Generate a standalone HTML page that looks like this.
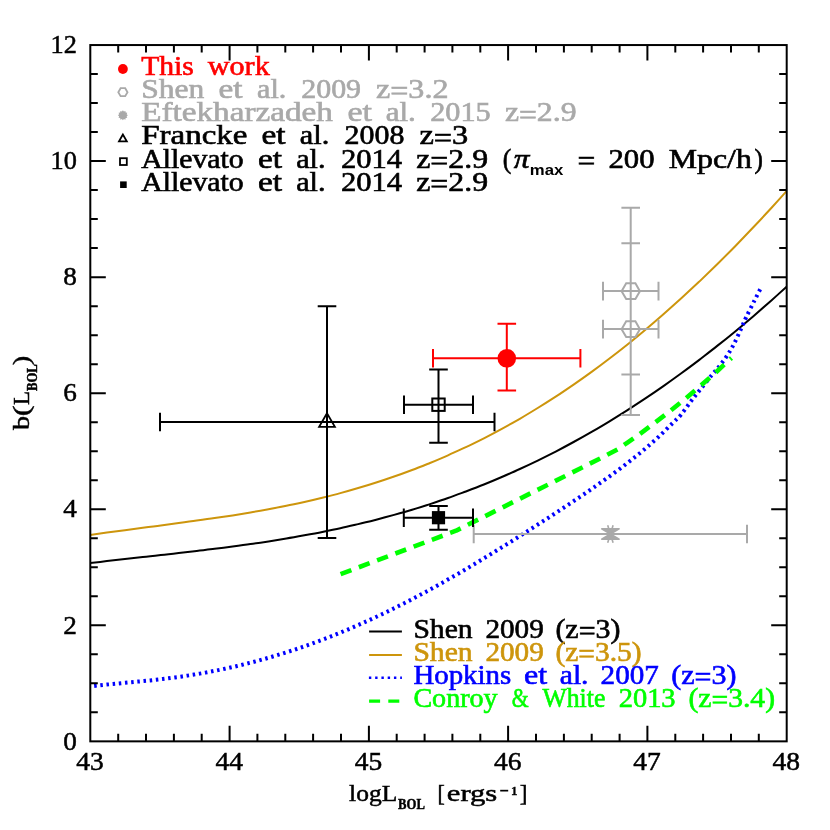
<!DOCTYPE html>
<html><head><meta charset="utf-8"><title>b(L_BOL)</title>
<style>html,body{margin:0;padding:0;background:#fff;}svg{display:block;will-change:transform;}text{font-family:"Liberation Serif",serif;}</style></head><body>
<svg width="830" height="830" viewBox="0 0 830 830">
<rect x="0" y="0" width="830" height="830" fill="#fff"/>
<clipPath id="cp"><rect x="90.3" y="45.05" width="696.4000000000001" height="696.3000000000001"/></clipPath>
<g clip-path="url(#cp)" fill="none">
<path d="M89.0,535.2 C92.0,534.8 101.0,533.4 106.9,532.6 C112.9,531.8 118.9,531.0 124.9,530.2 C130.9,529.4 136.9,528.6 142.8,527.8 C148.8,527.0 154.8,526.2 160.8,525.5 C166.8,524.7 172.8,523.9 178.7,523.1 C184.7,522.3 190.7,521.5 196.7,520.6 C202.7,519.8 208.7,519.0 214.6,518.1 C220.6,517.2 226.6,516.3 232.6,515.4 C238.6,514.4 244.6,513.4 250.5,512.4 C256.5,511.4 262.5,510.3 268.5,509.2 C274.5,508.1 280.5,506.9 286.4,505.7 C292.4,504.5 298.4,503.2 304.4,501.9 C310.4,500.6 316.4,499.2 322.3,497.7 C328.3,496.2 334.3,494.7 340.3,493.1 C346.3,491.5 352.2,489.8 358.2,488.0 C364.2,486.3 370.2,484.5 376.2,482.5 C382.2,480.6 388.1,478.6 394.1,476.5 C400.1,474.5 406.1,472.3 412.1,470.0 C418.1,467.8 424.0,465.4 430.0,463.0 C436.0,460.5 442.0,458.0 448.0,455.3 C454.0,452.7 459.9,449.9 465.9,447.1 C471.9,444.3 477.9,441.3 483.9,438.3 C489.9,435.2 495.8,432.1 501.8,428.8 C507.8,425.6 513.8,422.2 519.8,418.8 C525.8,415.3 531.7,411.7 537.7,408.0 C543.7,404.4 549.7,400.6 555.7,396.7 C561.6,392.8 567.6,388.7 573.6,384.6 C579.6,380.5 585.6,376.3 591.6,371.9 C597.5,367.6 603.5,363.1 609.5,358.5 C615.5,354.0 621.5,349.3 627.5,344.5 C633.4,339.7 639.4,334.8 645.4,329.7 C651.4,324.7 657.4,319.6 663.4,314.3 C669.3,309.1 675.3,303.7 681.3,298.3 C687.3,292.8 693.3,287.2 699.3,281.6 C705.2,275.9 711.2,270.1 717.2,264.2 C723.2,258.3 729.2,252.3 735.2,246.2 C741.1,240.1 747.1,233.8 753.1,227.5 C759.1,221.2 765.1,214.8 771.1,208.3 C777.0,201.7 786.0,191.7 789.0,188.4" stroke="#cd950c" stroke-width="2"/>
<path d="M89.0,563.2 C92.0,562.8 101.0,561.8 106.9,561.1 C112.9,560.4 118.9,559.7 124.9,559.0 C130.9,558.3 136.9,557.7 142.8,557.0 C148.8,556.4 154.8,555.7 160.8,555.0 C166.8,554.4 172.8,553.7 178.7,553.0 C184.7,552.3 190.7,551.7 196.7,551.0 C202.7,550.2 208.7,549.5 214.6,548.8 C220.6,548.0 226.6,547.3 232.6,546.5 C238.6,545.7 244.6,544.9 250.5,544.0 C256.5,543.2 262.5,542.3 268.5,541.4 C274.5,540.4 280.5,539.5 286.4,538.5 C292.4,537.5 298.4,536.4 304.4,535.3 C310.4,534.2 316.4,533.1 322.3,531.9 C328.3,530.7 334.3,529.5 340.3,528.2 C346.3,526.9 352.2,525.5 358.2,524.1 C364.2,522.7 370.2,521.2 376.2,519.7 C382.2,518.1 388.1,516.5 394.1,514.9 C400.1,513.2 406.1,511.5 412.1,509.7 C418.1,507.9 424.0,506.0 430.0,504.1 C436.0,502.1 442.0,500.1 448.0,498.0 C454.0,495.9 459.9,493.7 465.9,491.5 C471.9,489.2 477.9,486.9 483.9,484.5 C489.9,482.1 495.8,479.6 501.8,477.0 C507.8,474.4 513.8,471.8 519.8,469.0 C525.8,466.3 531.7,463.5 537.7,460.6 C543.7,457.6 549.7,454.6 555.7,451.6 C561.6,448.5 567.6,445.3 573.6,442.0 C579.6,438.8 585.6,435.4 591.6,431.9 C597.5,428.5 603.5,425.0 609.5,421.3 C615.5,417.7 621.5,414.0 627.5,410.2 C633.4,406.3 639.4,402.4 645.4,398.4 C651.4,394.4 657.4,390.3 663.4,386.1 C669.3,382.0 675.3,377.7 681.3,373.3 C687.3,368.9 693.3,364.5 699.3,359.9 C705.2,355.3 711.2,350.7 717.2,345.9 C723.2,341.2 729.2,336.4 735.2,331.4 C741.1,326.5 747.1,321.5 753.1,316.4 C759.1,311.2 765.1,306.0 771.1,300.7 C777.0,295.4 786.0,287.3 789.0,284.6" stroke="#000" stroke-width="2"/>
<path d="M88.0,686.7 C90.1,686.4 96.3,685.7 100.4,685.2 C104.6,684.8 108.7,684.4 112.9,684.0 C117.0,683.6 121.1,683.2 125.3,682.8 C129.4,682.4 133.6,682.0 137.7,681.6 C141.8,681.2 146.0,680.8 150.1,680.4 C154.3,680.0 158.4,679.5 162.6,679.0 C166.7,678.5 170.8,678.0 175.0,677.4 C179.1,676.9 183.3,676.3 187.4,675.6 C191.5,675.0 195.7,674.3 199.8,673.6 C204.0,672.9 208.1,672.1 212.3,671.3 C216.4,670.5 220.5,669.7 224.7,668.8 C228.8,667.9 233.0,667.0 237.1,666.0 C241.2,665.0 245.4,664.0 249.5,662.9 C253.7,661.9 257.8,660.8 262.0,659.6 C266.1,658.5 270.2,657.3 274.4,656.0 C278.5,654.8 282.7,653.5 286.8,652.2 C291.0,650.9 295.1,649.5 299.2,648.1 C303.4,646.7 307.5,645.2 311.7,643.7 C315.8,642.2 319.9,640.7 324.1,639.1 C328.2,637.5 332.4,635.9 336.5,634.2 C340.7,632.5 344.8,630.8 348.9,629.1 C353.1,627.3 357.2,625.5 361.4,623.7 C365.5,621.8 369.6,620.0 373.8,618.0 C377.9,616.1 382.1,614.2 386.2,612.2 C390.4,610.2 394.5,608.1 398.6,606.0 C402.8,604.0 406.9,601.8 411.1,599.7 C415.2,597.5 419.3,595.3 423.5,593.1 C427.6,590.9 431.8,588.6 435.9,586.3 C440.1,584.0 444.2,581.7 448.3,579.3 C452.5,577.0 456.6,574.6 460.8,572.2 C464.9,569.7 469.0,567.3 473.2,564.8 C477.3,562.3 481.5,559.8 485.6,557.3 C489.8,554.8 493.9,552.3 498.0,549.7 C502.2,547.1 506.3,544.6 510.5,542.0 C514.6,539.4 518.8,536.7 522.9,534.1 C527.0,531.5 531.2,528.8 535.3,526.2 C539.5,523.5 543.6,520.8 547.7,518.2 C551.9,515.5 556.0,512.8 560.2,510.0 C564.3,507.3 568.5,504.6 572.6,501.8 C576.7,499.1 580.9,496.3 585.0,493.5 C589.2,490.6 593.3,487.8 597.4,484.9 C601.6,482.0 605.7,479.1 609.9,476.1 C614.0,473.1 618.2,470.1 622.3,467.0 C626.4,463.8 630.6,460.6 634.7,457.3 C638.9,454.0 643.0,450.6 647.1,447.1 C651.3,443.5 655.4,439.8 659.6,435.9 C663.7,432.0 668.4,427.2 672.0,423.7 C675.6,420.1 677.9,418.3 681.0,414.7 C684.1,411.1 687.4,406.0 690.5,401.9 C693.6,397.8 696.2,394.6 699.8,390.1 C703.4,385.6 708.6,379.0 712.0,374.9 C715.4,370.8 717.4,368.6 720.0,365.3 C722.6,362.0 725.2,358.6 727.6,354.9 C730.0,351.2 732.0,347.7 734.3,343.3 C736.5,338.9 739.1,333.0 741.1,328.7 C743.1,324.4 743.9,322.0 746.1,317.3 C748.4,312.6 752.2,305.1 754.6,300.3 C757.0,295.5 759.5,290.6 760.5,288.7" stroke="#0000ff" stroke-width="4.0" stroke-dasharray="2.5 3.7"/>
<path d="M340.6,574.1 L456.1,530.7 L606.0,455.5 L618.0,449.1 L627.5,442.6 L640.0,433.8 L655.0,422.7 L670.0,411.1 L685.0,399.0 L700.0,386.3 L715.0,373.1 L731.5,358.0" stroke-linejoin="round" stroke="#00ff00" stroke-width="4.6" stroke-dasharray="11.5 8"/>
</g>
<g stroke="#000" stroke-width="2" fill="none" stroke-linecap="square">
<rect x="90.3" y="45.05" width="696.4000000000001" height="696.3000000000001"/>
</g>
<g stroke="#000" stroke-width="2" fill="none">
<path d="M118.2,741.35v-7.5M118.2,45.05v7.5M146.0,741.35v-7.5M146.0,45.05v7.5M173.9,741.35v-7.5M173.9,45.05v7.5M201.7,741.35v-7.5M201.7,45.05v7.5M229.6,741.35v-15.5M229.6,45.05v15.5M257.4,741.35v-7.5M257.4,45.05v7.5M285.3,741.35v-7.5M285.3,45.05v7.5M313.1,741.35v-7.5M313.1,45.05v7.5M341.0,741.35v-7.5M341.0,45.05v7.5M368.9,741.35v-15.5M368.9,45.05v15.5M396.7,741.35v-7.5M396.7,45.05v7.5M424.6,741.35v-7.5M424.6,45.05v7.5M452.4,741.35v-7.5M452.4,45.05v7.5M480.3,741.35v-7.5M480.3,45.05v7.5M508.1,741.35v-15.5M508.1,45.05v15.5M536.0,741.35v-7.5M536.0,45.05v7.5M563.9,741.35v-7.5M563.9,45.05v7.5M591.7,741.35v-7.5M591.7,45.05v7.5M619.6,741.35v-7.5M619.6,45.05v7.5M647.4,741.35v-15.5M647.4,45.05v15.5M675.3,741.35v-7.5M675.3,45.05v7.5M703.1,741.35v-7.5M703.1,45.05v7.5M731.0,741.35v-7.5M731.0,45.05v7.5M758.8,741.35v-7.5M758.8,45.05v7.5M90.3,712.3h7.5M786.7,712.3h-7.5M90.3,683.3h7.5M786.7,683.3h-7.5M90.3,654.3h7.5M786.7,654.3h-7.5M90.3,625.3h15.5M786.7,625.3h-15.5M90.3,596.3h7.5M786.7,596.3h-7.5M90.3,567.3h7.5M786.7,567.3h-7.5M90.3,538.3h7.5M786.7,538.3h-7.5M90.3,509.2h15.5M786.7,509.2h-15.5M90.3,480.2h7.5M786.7,480.2h-7.5M90.3,451.2h7.5M786.7,451.2h-7.5M90.3,422.2h7.5M786.7,422.2h-7.5M90.3,393.2h15.5M786.7,393.2h-15.5M90.3,364.2h7.5M786.7,364.2h-7.5M90.3,335.2h7.5M786.7,335.2h-7.5M90.3,306.2h7.5M786.7,306.2h-7.5M90.3,277.2h15.5M786.7,277.2h-15.5M90.3,248.1h7.5M786.7,248.1h-7.5M90.3,219.1h7.5M786.7,219.1h-7.5M90.3,190.1h7.5M786.7,190.1h-7.5M90.3,161.1h15.5M786.7,161.1h-15.5M90.3,132.1h7.5M786.7,132.1h-7.5M90.3,103.1h7.5M786.7,103.1h-7.5M90.3,74.1h7.5M786.7,74.1h-7.5"/>
</g>
<text x="63.2" y="749.5" font-size="26" fill="#000" stroke="#000" stroke-width="0.5" textLength="13.6" lengthAdjust="spacingAndGlyphs">0</text>
<text x="63.2" y="633.5" font-size="26" fill="#000" stroke="#000" stroke-width="0.5" textLength="13.6" lengthAdjust="spacingAndGlyphs">2</text>
<text x="63.2" y="517.4" font-size="26" fill="#000" stroke="#000" stroke-width="0.5" textLength="13.6" lengthAdjust="spacingAndGlyphs">4</text>
<text x="63.2" y="401.4" font-size="26" fill="#000" stroke="#000" stroke-width="0.5" textLength="13.6" lengthAdjust="spacingAndGlyphs">6</text>
<text x="63.2" y="285.3" font-size="26" fill="#000" stroke="#000" stroke-width="0.5" textLength="13.6" lengthAdjust="spacingAndGlyphs">8</text>
<text x="50.5" y="169.3" font-size="26" fill="#000" stroke="#000" stroke-width="0.5" textLength="26.3" lengthAdjust="spacingAndGlyphs">10</text>
<text x="50.5" y="53.2" font-size="26" fill="#000" stroke="#000" stroke-width="0.5" textLength="26.3" lengthAdjust="spacingAndGlyphs">12</text>
<text x="76.2" y="770.2" font-size="25.5" fill="#000" stroke="#000" stroke-width="0.5" textLength="27.5" lengthAdjust="spacingAndGlyphs">43</text>
<text x="215.5" y="770.2" font-size="25.5" fill="#000" stroke="#000" stroke-width="0.5" textLength="27.5" lengthAdjust="spacingAndGlyphs">44</text>
<text x="354.8" y="770.2" font-size="25.5" fill="#000" stroke="#000" stroke-width="0.5" textLength="27.5" lengthAdjust="spacingAndGlyphs">45</text>
<text x="494.0" y="770.2" font-size="25.5" fill="#000" stroke="#000" stroke-width="0.5" textLength="27.5" lengthAdjust="spacingAndGlyphs">46</text>
<text x="633.3" y="770.2" font-size="25.5" fill="#000" stroke="#000" stroke-width="0.5" textLength="27.5" lengthAdjust="spacingAndGlyphs">47</text>
<text x="772.6" y="770.2" font-size="25.5" fill="#000" stroke="#000" stroke-width="0.5" textLength="27.5" lengthAdjust="spacingAndGlyphs">48</text>
<text x="349.1" y="801.0" font-size="23" fill="#000" stroke="#000" stroke-width="0.5" textLength="48.1" lengthAdjust="spacingAndGlyphs">logL</text>
<text x="398.1" y="808.5" font-size="14.5" fill="#000" stroke="#000" stroke-width="0.45" textLength="26.8" lengthAdjust="spacingAndGlyphs" style="font-weight:bold;">BOL</text>
<text x="437.4" y="801.0" font-size="23" fill="#000" stroke="#000" stroke-width="0.5" textLength="7.3" lengthAdjust="spacingAndGlyphs">[</text>
<text x="446.8" y="801.0" font-size="23" fill="#000" stroke="#000" stroke-width="0.5" textLength="50.5" lengthAdjust="spacingAndGlyphs">ergs</text>
<rect x="500.2" y="789.8" width="8" height="1.7" fill="#000"/>
<text x="511.0" y="795.2" font-size="13.5" fill="#000" stroke="#000" stroke-width="0.3" textLength="6.5" lengthAdjust="spacingAndGlyphs" style="font-weight:bold;">1</text>
<text x="519.8" y="801.0" font-size="23" fill="#000" stroke="#000" stroke-width="0.5" textLength="7.7" lengthAdjust="spacingAndGlyphs">]</text>
<g transform="translate(28.9,429.6) rotate(-90)">
<text x="-0.5" y="0.3" font-size="23" fill="#000" stroke="#000" stroke-width="0.5" textLength="14.1" lengthAdjust="spacingAndGlyphs">b</text>
<text x="13.4" y="0.3" font-size="23" fill="#000" stroke="#000" stroke-width="0.5" textLength="10.7" lengthAdjust="spacingAndGlyphs">(</text>
<text x="24.5" y="0.3" font-size="23" fill="#000" stroke="#000" stroke-width="0.5" textLength="14.0" lengthAdjust="spacingAndGlyphs">L</text>
<text x="38.6" y="8.5" font-size="14.5" fill="#000" stroke="#000" stroke-width="0.45" textLength="26.8" lengthAdjust="spacingAndGlyphs" style="font-weight:bold;">BOL</text>
<text x="64.7" y="0.3" font-size="23" fill="#000" stroke="#000" stroke-width="0.5" textLength="9.1" lengthAdjust="spacingAndGlyphs">)</text>
</g>
<path d="M603.0,329.1H658.5M603.0,319.8v18.6M658.5,319.8v18.6M630.7,207.7V415.0M621.4,207.7h18.6M621.4,243.2h18.6M621.4,374.5h18.6M621.4,415.0h18.6" stroke="#a9a9a9" stroke-width="2" fill="none"/>
<path d="M603.0,291.1H658.5M603.0,281.8v18.6M658.5,281.8v18.6" stroke="#a9a9a9" stroke-width="2" fill="none"/>
<polygon points="639.9,329.2 635.4,337.1 626.2,337.1 621.6,329.2 626.2,321.3 635.4,321.3" fill="none" stroke="#a9a9a9" stroke-width="2"/>
<polygon points="639.9,291.2 635.4,299.1 626.2,299.1 621.6,291.2 626.2,283.3 635.4,283.3" fill="none" stroke="#a9a9a9" stroke-width="2"/>
<path d="M473.7,534.0H747.0M473.7,524.7v18.6M747.0,524.7v18.6" stroke="#a9a9a9" stroke-width="2" fill="none"/>
<g transform="translate(610.4,534.0) scale(1)" stroke="#a9a9a9" fill="#a9a9a9" stroke-width="1.60"><polygon points="-8.7,-5.2 8.7,-5.2 -8.7,5.2 8.7,5.2" stroke-linejoin="round"/><path d="M-2.7,-8.8L2.7,8.8M2.7,-8.8L-2.7,8.8" fill="none"/></g>
<path d="M160.0,422.0H494.5M160.0,412.7v18.6M494.5,412.7v18.6M327.0,306.2V538.0M317.7,306.2h18.6M317.7,538.0h18.6" stroke="#000" stroke-width="2" fill="none"/>
<polygon points="327.0,413.2 319.1,426.8 334.9,426.8" fill="none" stroke="#000" stroke-width="1.8"/>
<path d="M404.0,404.7H473.0M404.0,395.4v18.6M473.0,395.4v18.6M438.5,369.6V442.7M429.2,369.6h18.6M429.2,442.7h18.6" stroke="#000" stroke-width="2" fill="none"/>
<rect x="432.3" y="398.5" width="12.4" height="12.4" fill="none" stroke="#000" stroke-width="2"/>
<path d="M403.8,517.7H473.0M403.8,508.4v18.6M473.0,508.4v18.6M438.5,505.9V529.7M429.2,505.9h18.6M429.2,529.7h18.6" stroke="#000" stroke-width="2" fill="none"/>
<rect x="431.9" y="511.1" width="13.2" height="13.2" fill="#000" stroke="#000" stroke-width="0"/>
<path d="M433.0,358.3H580.4M433.0,349.0v18.6M580.4,349.0v18.6M506.8,323.7V390.4M497.5,323.7h18.6M497.5,390.4h18.6" stroke="#ff0000" stroke-width="2" fill="none"/>
<circle cx="506.8" cy="358.3" r="9.3" fill="#ff0000"/>
<text x="141.2" y="74.8" font-size="26.3" fill="#ff0000" stroke="#ff0000" stroke-width="0.6" textLength="52.7" lengthAdjust="spacingAndGlyphs">This</text>
<text x="207.8" y="74.8" font-size="26.3" fill="#ff0000" stroke="#ff0000" stroke-width="0.6" textLength="61.9" lengthAdjust="spacingAndGlyphs">work</text>
<text x="141.2" y="98.0" font-size="26.3" fill="#a9a9a9" stroke="#a9a9a9" stroke-width="0.6" textLength="63.1" lengthAdjust="spacingAndGlyphs">Shen</text>
<text x="218.5" y="98.0" font-size="26.3" fill="#a9a9a9" stroke="#a9a9a9" stroke-width="0.6" textLength="24.0" lengthAdjust="spacingAndGlyphs">et</text>
<text x="257.0" y="98.0" font-size="26.3" fill="#a9a9a9" stroke="#a9a9a9" stroke-width="0.6" textLength="29.3" lengthAdjust="spacingAndGlyphs">al.</text>
<text x="301.2" y="98.0" font-size="26.3" fill="#a9a9a9" stroke="#a9a9a9" stroke-width="0.6" textLength="59.9" lengthAdjust="spacingAndGlyphs">2009</text>
<text x="376.0" y="98.0" font-size="26.3" fill="#a9a9a9" stroke="#a9a9a9" stroke-width="0.6" textLength="72.5" lengthAdjust="spacingAndGlyphs">z<tspan dy="2.4">=</tspan><tspan dy="-2.4">3.2</tspan></text>
<text x="141.2" y="121.1" font-size="26.3" fill="#a9a9a9" stroke="#a9a9a9" stroke-width="0.6" textLength="191.7" lengthAdjust="spacingAndGlyphs">Eftekharzadeh</text>
<text x="347.4" y="121.1" font-size="26.3" fill="#a9a9a9" stroke="#a9a9a9" stroke-width="0.6" textLength="24.5" lengthAdjust="spacingAndGlyphs">et</text>
<text x="385.7" y="121.1" font-size="26.3" fill="#a9a9a9" stroke="#a9a9a9" stroke-width="0.6" textLength="30.2" lengthAdjust="spacingAndGlyphs">al.</text>
<text x="430.2" y="121.1" font-size="26.3" fill="#a9a9a9" stroke="#a9a9a9" stroke-width="0.6" textLength="60.5" lengthAdjust="spacingAndGlyphs">2015</text>
<text x="504.9" y="121.1" font-size="26.3" fill="#a9a9a9" stroke="#a9a9a9" stroke-width="0.6" textLength="71.6" lengthAdjust="spacingAndGlyphs">z<tspan dy="2.4">=</tspan><tspan dy="-2.4">2.9</tspan></text>
<text x="141.2" y="144.3" font-size="26.3" fill="#000" stroke="#000" stroke-width="0.6" textLength="106.3" lengthAdjust="spacingAndGlyphs">Francke</text>
<text x="261.5" y="144.3" font-size="26.3" fill="#000" stroke="#000" stroke-width="0.6" textLength="24.1" lengthAdjust="spacingAndGlyphs">et</text>
<text x="299.8" y="144.3" font-size="26.3" fill="#000" stroke="#000" stroke-width="0.6" textLength="29.5" lengthAdjust="spacingAndGlyphs">al.</text>
<text x="344.6" y="144.3" font-size="26.3" fill="#000" stroke="#000" stroke-width="0.6" textLength="59.9" lengthAdjust="spacingAndGlyphs">2008</text>
<text x="419.4" y="144.3" font-size="26.3" fill="#000" stroke="#000" stroke-width="0.6" textLength="48.9" lengthAdjust="spacingAndGlyphs">z<tspan dy="2.4">=</tspan><tspan dy="-2.4">3</tspan></text>
<text x="141.2" y="167.5" font-size="26.3" fill="#000" stroke="#000" stroke-width="0.6" textLength="102.4" lengthAdjust="spacingAndGlyphs">Allevato</text>
<text x="257.9" y="167.5" font-size="26.3" fill="#000" stroke="#000" stroke-width="0.6" textLength="24.1" lengthAdjust="spacingAndGlyphs">et</text>
<text x="296.2" y="167.5" font-size="26.3" fill="#000" stroke="#000" stroke-width="0.6" textLength="29.3" lengthAdjust="spacingAndGlyphs">al.</text>
<text x="340.9" y="167.5" font-size="26.3" fill="#000" stroke="#000" stroke-width="0.6" textLength="61.2" lengthAdjust="spacingAndGlyphs">2014</text>
<text x="416.2" y="167.5" font-size="26.3" fill="#000" stroke="#000" stroke-width="0.6" textLength="71.9" lengthAdjust="spacingAndGlyphs">z<tspan dy="2.4">=</tspan><tspan dy="-2.4">2.9</tspan></text>
<text x="502.8" y="167.5" font-size="26.3" fill="#000" stroke="#000" stroke-width="0.6" textLength="8.5" lengthAdjust="spacingAndGlyphs">(</text>
<text x="577.5" y="167.5" font-size="26.3" fill="#000" stroke="#000" stroke-width="0.6" textLength="17.8" lengthAdjust="spacingAndGlyphs"><tspan dy="2.4">=</tspan></text>
<text x="608.5" y="167.5" font-size="26.3" fill="#000" stroke="#000" stroke-width="0.6" textLength="46.1" lengthAdjust="spacingAndGlyphs">200</text>
<text x="668.8" y="167.5" font-size="26.3" fill="#000" stroke="#000" stroke-width="0.6" textLength="83.0" lengthAdjust="spacingAndGlyphs">Mpc/h</text>
<text x="754.5" y="167.5" font-size="26.3" fill="#000" stroke="#000" stroke-width="0.6" textLength="8.4" lengthAdjust="spacingAndGlyphs">)</text>
<text x="141.2" y="190.6" font-size="26.3" fill="#000" stroke="#000" stroke-width="0.6" textLength="102.4" lengthAdjust="spacingAndGlyphs">Allevato</text>
<text x="257.9" y="190.6" font-size="26.3" fill="#000" stroke="#000" stroke-width="0.6" textLength="24.1" lengthAdjust="spacingAndGlyphs">et</text>
<text x="296.2" y="190.6" font-size="26.3" fill="#000" stroke="#000" stroke-width="0.6" textLength="29.3" lengthAdjust="spacingAndGlyphs">al.</text>
<text x="340.9" y="190.6" font-size="26.3" fill="#000" stroke="#000" stroke-width="0.6" textLength="61.2" lengthAdjust="spacingAndGlyphs">2014</text>
<text x="416.2" y="190.6" font-size="26.3" fill="#000" stroke="#000" stroke-width="0.6" textLength="71.9" lengthAdjust="spacingAndGlyphs">z<tspan dy="2.4">=</tspan><tspan dy="-2.4">2.9</tspan></text>
<text x="529.8" y="175.1" font-size="15" fill="#000" stroke="#000" stroke-width="0" textLength="33.5" lengthAdjust="spacingAndGlyphs" style="font-family:'Liberation Sans',sans-serif;font-weight:bold;">max</text>
<text x="513.8" y="167.5" font-size="26.3" fill="#000" stroke="#000" stroke-width="0.6" textLength="15.7" lengthAdjust="spacingAndGlyphs" style="font-style:italic;">π</text>
<circle cx="122.9" cy="69.0" r="4.9" fill="#ff0000"/>
<polygon points="127.5,92.2 125.2,96.1 120.6,96.1 118.3,92.2 120.6,88.2 125.2,88.2" fill="none" stroke="#a9a9a9" stroke-width="1.8"/>
<polygon points="127.90,115.30 126.67,116.31 127.23,117.80 125.66,118.06 125.40,119.63 123.91,119.07 122.90,120.30 121.89,119.07 120.40,119.63 120.14,118.06 118.57,117.80 119.13,116.31 117.90,115.30 119.13,114.29 118.57,112.80 120.14,112.54 120.40,110.97 121.89,111.53 122.90,110.30 123.91,111.53 125.40,110.97 125.66,112.54 127.23,112.80 126.67,114.29" fill="#a9a9a9"/>
<polygon points="122.9,134.5 119.0,141.3 126.8,141.3" fill="none" stroke="#000" stroke-width="1.8"/>
<rect x="120.0" y="158.2" width="6.8" height="6.8" fill="none" stroke="#000" stroke-width="1.8"/>
<rect x="120.1" y="181.4" width="6.6" height="6.6" fill="#000" stroke="#000" stroke-width="0"/>
<text x="413.4" y="637.5" font-size="26.3" fill="#000" stroke="#000" stroke-width="0.6" textLength="59.2" lengthAdjust="spacingAndGlyphs">Shen</text>
<text x="485.4" y="637.5" font-size="26.3" fill="#000" stroke="#000" stroke-width="0.6" textLength="58.4" lengthAdjust="spacingAndGlyphs">2009</text>
<text x="555.4" y="637.5" font-size="26.3" fill="#000" stroke="#000" stroke-width="0.6" textLength="65.1" lengthAdjust="spacingAndGlyphs">(z<tspan dy="2.4">=</tspan><tspan dy="-2.4">3)</tspan></text>
<text x="413.4" y="660.7" font-size="26.3" fill="#cd950c" stroke="#cd950c" stroke-width="0.6" textLength="59.2" lengthAdjust="spacingAndGlyphs">Shen</text>
<text x="485.4" y="660.7" font-size="26.3" fill="#cd950c" stroke="#cd950c" stroke-width="0.6" textLength="58.4" lengthAdjust="spacingAndGlyphs">2009</text>
<text x="555.4" y="660.7" font-size="26.3" fill="#cd950c" stroke="#cd950c" stroke-width="0.6" textLength="86.2" lengthAdjust="spacingAndGlyphs">(z<tspan dy="2.4">=</tspan><tspan dy="-2.4">3.5)</tspan></text>
<text x="413.4" y="683.8" font-size="26.3" fill="#0000ff" stroke="#0000ff" stroke-width="0.6" textLength="97.8" lengthAdjust="spacingAndGlyphs">Hopkins</text>
<text x="524.0" y="683.8" font-size="26.3" fill="#0000ff" stroke="#0000ff" stroke-width="0.6" textLength="23.1" lengthAdjust="spacingAndGlyphs">et</text>
<text x="559.8" y="683.8" font-size="26.3" fill="#0000ff" stroke="#0000ff" stroke-width="0.6" textLength="28.7" lengthAdjust="spacingAndGlyphs">al.</text>
<text x="600.6" y="683.8" font-size="26.3" fill="#0000ff" stroke="#0000ff" stroke-width="0.6" textLength="58.2" lengthAdjust="spacingAndGlyphs">2007</text>
<text x="671.3" y="683.8" font-size="26.3" fill="#0000ff" stroke="#0000ff" stroke-width="0.6" textLength="65.2" lengthAdjust="spacingAndGlyphs">(z<tspan dy="2.4">=</tspan><tspan dy="-2.4">3)</tspan></text>
<text x="413.4" y="707.0" font-size="26.3" fill="#00ff00" stroke="#00ff00" stroke-width="0.6" textLength="84.2" lengthAdjust="spacingAndGlyphs">Conroy</text>
<text x="511.8" y="707.0" font-size="26.3" fill="#00ff00" stroke="#00ff00" stroke-width="0.6" textLength="16.9" lengthAdjust="spacingAndGlyphs">&amp;</text>
<text x="542.5" y="707.0" font-size="26.3" fill="#00ff00" stroke="#00ff00" stroke-width="0.6" textLength="62.8" lengthAdjust="spacingAndGlyphs">White</text>
<text x="618.7" y="707.0" font-size="26.3" fill="#00ff00" stroke="#00ff00" stroke-width="0.6" textLength="56.9" lengthAdjust="spacingAndGlyphs">2013</text>
<text x="688.5" y="707.0" font-size="26.3" fill="#00ff00" stroke="#00ff00" stroke-width="0.6" textLength="86.5" lengthAdjust="spacingAndGlyphs">(z<tspan dy="2.4">=</tspan><tspan dy="-2.4">3.4)</tspan></text>
<path d="M369.1,631.6H401.9" stroke="#000" stroke-width="2"/>
<path d="M369.1,654.9H401.9" stroke="#cd950c" stroke-width="2"/>
<path d="M368.9,677.8H401.9" stroke="#0000ff" stroke-width="2.5" stroke-dasharray="2.4 3.86"/>
<path d="M369.1,701.1H401.9" stroke="#00ff00" stroke-width="3.1" stroke-dasharray="11 8.2"/>
</svg></body></html>
